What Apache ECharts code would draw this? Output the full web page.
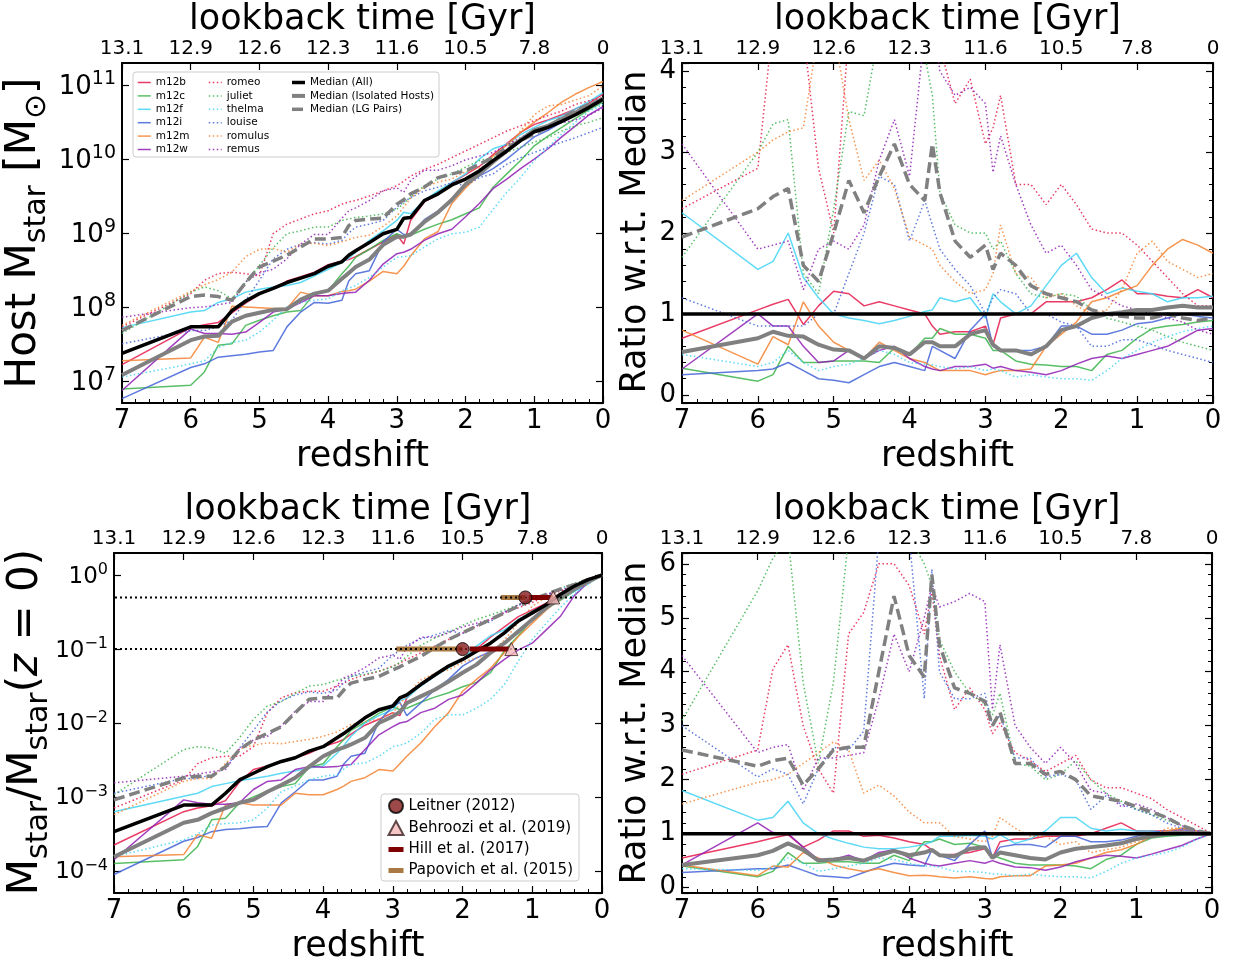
<!DOCTYPE html>
<html>
<head>
<meta charset="utf-8">
<title>Host stellar mass growth</title>
<script src="https://cdn.jsdelivr.net/npm/echarts@6/dist/echarts.min.js"></script>
<style>
  html, body { margin: 0; padding: 0; background: #fff; }
  #chart { width: 1234px; height: 968px; }
</style>
</head>
<body>
<div id="chart"></div>
<script>
// shared redshift grid
const redshift = [7, 6, 5.8, 5.6, 5.4, 5.2, 5, 4.8, 4.6, 4.4, 4.2, 4, 3.8, 3.7, 3.6, 3.4, 3.2, 3, 2.9, 2.8, 2.6, 2.4, 2.2, 2, 1.8, 1.6, 1.4, 1.2, 1, 0.8, 0.6, 0.4, 0.2, 0]

// top axis: lookback time at integer redshifts
const lookbackZ = [7, 6, 5, 4, 3, 2, 1, 0]
const lookbackGyr = ['13.1', '12.9', '12.6', '12.3', '11.6', '10.5', '7.8', '0']

// panel 1: log10 host stellar mass
const medAllMass = [7.37,7.73,7.73,7.73,7.95,8.08,8.18,8.25,8.33,8.39,8.45,8.55, 8.61,8.7,8.76,8.87,8.99,9.05,9.2,9.21, 9.44,9.53,9.65,9.73,9.84,9.98,10.11,10.25,10.37,10.43,10.51,10.6,10.7,10.81]
const medIsoMass = [7.08,7.55,7.6,7.61,7.8,7.88,7.92,7.96,7.97,8.1,8.18,8.22, 8.38,8.46,8.54,8.64,8.84,8.95,8.95,8.98, 9.15,9.28,9.45,9.66,9.8,9.96,10.11,10.26,10.39,10.45,10.54,10.63,10.72,10.82]
const medLGMass = [7.68,8.14,8.16,8.14,8.09,8.33,8.54,8.62,8.7,8.81,8.92,8.92, 8.94,9.1,9.17,9.19,9.2,9.39,9.45,9.53, 9.62,9.75,9.8,9.84,9.93,10.02,10.16,10.25,10.34,10.43,10.56,10.65,10.74,10.81]
const m12bMass = [7.22,7.72,7.76,7.79,7.92,8.05,8.17,8.25,8.35,8.41,8.47,8.57, 8.62,8.64,8.68,8.78,8.88,8.98,8.85,9.17, 9.42,9.52,9.68,9.79,9.9,10.06,10.21,10.36,10.47,10.53,10.6,10.68,10.76,10.88]
const m12cMass = [6.89,6.94,7.12,7.48,7.5,7.75,7.82,7.88,7.93,7.95,8.18,8.22, 8.45,8.55,8.67,8.78,8.9,8.99,8.95,8.97, 9.05,9.12,9.18,9.26,9.34,9.62,9.8,9.98,10.18,10.31,10.43,10.55,10.67,10.77]
const m12fMass = [7.72,7.93,7.95,8.06,8.11,8.2,8.24,8.27,8.29,8.33,8.42,8.51, 8.6,8.66,8.74,8.9,9.03,9.17,9.28,9.26, 9.44,9.57,9.68,9.8,10.0,10.14,10.2,10.33,10.43,10.52,10.58,10.68,10.78,10.9]
const m12iMass = [6.76,7.18,7.23,7.32,7.34,7.36,7.39,7.41,7.73,7.93,8.06,8.05, 8.09,8.35,8.45,8.49,8.88,9.05,8.98,8.98, 9.18,9.3,9.45,9.65,9.77,9.87,10.0,10.15,10.3,10.39,10.5,10.6,10.69,10.79]
const m12mMass = [7.27,7.31,7.59,7.52,8.01,8.0,7.99,7.98,7.98,8.2,8.15,8.15, 8.21,8.22,8.24,8.35,8.48,8.45,8.55,8.69, 8.92,9.02,9.4,9.61,9.79,10.04,10.19,10.36,10.5,10.63,10.77,10.88,10.97,11.05]
const m12wMass = [6.87,7.7,7.64,7.64,7.63,7.66,7.79,7.93,7.97,8.06,8.15,8.15, 8.18,8.19,8.2,8.36,8.58,8.72,8.74,8.78, 8.9,8.99,9.05,9.22,9.4,9.6,9.73,9.87,10.0,10.14,10.3,10.45,10.6,10.71]
const romeoMass = [7.73,8.18,8.36,8.45,8.47,8.45,8.42,8.99,9.12,9.19,9.26,9.3, 9.39,9.42,9.44,9.5,9.57,9.64,9.7,9.77, 9.86,9.93,10.02,10.11,10.2,10.29,10.38,10.45,10.52,10.59,10.65,10.74,10.79,10.83]
const julietMass = [7.64,8.2,8.27,8.22,8.11,8.33,8.56,8.8,8.99,9.03,9.08,9.08, 9.17,9.19,9.21,9.23,9.26,9.32,9.4,9.48, 9.64,9.73,9.8,9.89,9.98,10.02,10.09,10.16,10.23,10.29,10.38,10.45,10.5,10.56]
const thelmaMass = [7.05,7.23,7.27,7.45,7.52,7.55,7.66,7.82,8.0,8.06,8.09,8.11, 8.22,8.25,8.29,8.4,8.54,8.67,8.68,8.69, 8.81,8.92,8.99,9.01,9.08,9.32,9.55,9.75,9.98,10.16,10.34,10.5,10.65,10.74]
const louiseMass = [7.5,7.68,7.68,7.73,7.82,8.09,8.36,8.65,8.78,8.85,8.87,8.85, 8.9,9.0,9.08,9.12,9.17,9.35,9.42,9.48, 9.57,9.62,9.68,9.64,9.75,9.8,9.93,10.02,10.09,10.16,10.23,10.29,10.36,10.43]
const romulusMass = [7.75,8.21,8.3,8.37,8.47,8.68,8.78,8.79,8.74,8.85,8.86,8.83, 8.88,8.91,8.94,8.97,9.09,9.23,9.35,9.47, 9.62,9.69,9.73,9.83,9.88,9.96,10.13,10.38,10.6,10.72,10.74,10.8,10.86,10.99]
const remusMass = [7.86,7.99,8.0,8.03,8.06,8.34,8.46,8.51,8.65,8.85,8.98,8.98, 9.2,9.3,9.34,9.44,9.57,9.61,9.55,9.71, 9.85,9.85,9.91,9.99,10.04,10.09,10.19,10.29,10.39,10.43,10.49,10.53,10.6,10.69]

// panel 2: mass ratio w.r.t. median (all)
const medAllRatio = [1,1,1,1,1,1,1,1,1,1,1,1, 1,1,1,1,1,1,1,1, 1,1,1,1,1,1,1,1,1,1,1,1,1,1]
const medIsoRatio = [0.53,0.7,0.78,0.73,0.72,0.62,0.56,0.55,0.45,0.6,0.58,0.5, 0.65,0.65,0.6,0.6,0.75,0.8,0.62,0.55, 0.55,0.5,0.6,0.8,0.85,0.95,1.0,1.02,1.05,1.05,1.08,1.1,1.08,1.08]
const medLGRatio = [1.95,2.3,2.45,2.55,1.6,1.4,2.0,2.65,2.25,2.7,3.1,2.6, 2.4,3.1,2.5,1.9,1.7,1.85,1.55,1.75, 1.6,1.35,1.25,1.2,1.15,1.05,1.0,0.97,0.95,0.95,1.0,0.95,0.92,0.95]
const m12bRatio = [0.7,1.05,1.12,1.18,0.87,1.1,1.28,1.25,1.1,1.15,1.1,1.05, 1.0,0.85,0.75,0.78,0.78,0.85,0.62,0.95, 1.0,1.0,1.15,1.15,1.15,1.2,1.3,1.42,1.25,1.25,1.22,1.2,1.3,1.2]
const m12cRatio = [0.33,0.17,0.25,0.6,0.4,0.4,0.42,0.42,0.42,0.4,0.58,0.5, 0.7,0.7,0.82,0.75,0.75,0.7,0.55,0.55, 0.42,0.38,0.37,0.35,0.35,0.3,0.5,0.55,0.7,0.82,0.85,0.87,0.9,0.92]
const m12fRatio = [2.25,1.55,1.65,2.0,1.45,1.2,1.0,0.95,0.92,0.88,0.92,0.97, 1.03,1.05,1.2,1.15,1.2,0.95,1.25,1.15, 1.0,1.1,1.35,1.6,1.75,1.45,1.25,1.32,1.28,1.25,1.15,1.2,1.2,1.22]
const m12iRatio = [0.25,0.3,0.32,0.4,0.3,0.2,0.18,0.15,0.25,0.35,0.4,0.35, 0.3,0.6,0.55,0.45,0.8,1.0,0.6,0.55, 0.55,0.55,0.6,0.85,0.85,0.75,0.75,0.8,0.88,0.9,0.95,1.0,0.97,0.95]
const m12mRatio = [0.8,0.38,0.72,0.62,1.15,0.85,0.65,0.55,0.45,0.65,0.55,0.45, 0.4,0.35,0.3,0.3,0.3,0.25,0.28,0.3, 0.3,0.32,0.6,0.75,0.9,1.15,1.2,1.28,1.35,1.6,1.8,1.92,1.85,1.75]
const m12wRatio = [0.32,1.0,0.85,0.85,0.6,0.4,0.42,0.55,0.45,0.55,0.6,0.45, 0.35,0.32,0.3,0.35,0.35,0.38,0.33,0.35, 0.3,0.28,0.25,0.3,0.38,0.45,0.48,0.45,0.5,0.55,0.6,0.7,0.8,0.82]
const romeoRatio = [2.3,2.8,4.6,5.0,4.5,2.8,2.0,4.5,5.0,5.0,5.0,5.0, 4.6,4.5,4.3,3.6,3.9,3.1,3.3,3.7, 2.6,2.6,2.35,2.6,2.35,2.05,2.0,2.0,1.85,1.65,1.45,1.25,1.1,1.1]
const julietRatio = [1.7,3.0,3.35,3.4,1.5,1.25,2.3,3.5,3.45,4.5,5.0,4.5, 4.2,3.7,2.5,2.1,2.0,2.0,1.8,1.9, 1.5,1.25,1.2,1.25,1.22,1.05,0.95,0.9,0.85,0.8,0.72,0.65,0.6,0.55]
const thelmaRatio = [0.5,0.35,0.4,0.55,0.4,0.3,0.35,0.38,0.45,0.55,0.5,0.4, 0.38,0.37,0.35,0.32,0.35,0.3,0.32,0.3, 0.22,0.25,0.22,0.2,0.2,0.18,0.3,0.45,0.55,0.65,0.72,0.78,0.82,0.85]
const louiseRatio = [1.2,0.85,0.85,0.85,0.85,1.0,1.0,1.5,2.0,2.7,2.6,1.9, 2.4,2.1,1.8,1.55,1.35,1.0,1.2,1.3, 1.25,1.0,1.0,0.9,0.85,0.6,0.6,0.68,0.68,0.62,0.55,0.5,0.45,0.4]
const romulusRatio = [2.4,3.0,3.15,3.25,3.3,4.5,4.5,3.4,2.65,2.9,2.55,1.95, 1.85,1.8,1.6,1.4,1.25,1.3,1.5,2.1, 1.5,1.45,1.2,1.25,1.1,1.0,1.05,1.3,1.75,1.9,1.65,1.55,1.45,1.5]
const remusRatio = [3.1,1.8,1.85,1.9,1.3,1.8,1.9,1.8,2.1,2.9,3.4,2.7, 4.5,4.6,4.0,3.7,3.8,3.6,2.75,3.2, 2.6,2.1,1.75,1.85,1.6,1.3,1.2,1.1,1.05,1.0,0.95,0.9,0.8,0.75]

// panel 3: log10 of M(z)/M(z=0)
const medAllFrac = [-3.47,-3.11,-3.11,-3.11,-2.95,-2.77,-2.68,-2.59,-2.52,-2.47,-2.38,-2.32, -2.2,-2.14,-2.07,-1.93,-1.82,-1.77,-1.66,-1.62, -1.48,-1.35,-1.23,-1.14,-1.03,-0.92,-0.78,-0.62,-0.51,-0.4,-0.26,-0.15,-0.06,0]
const medIsoFrac = [-3.81,-3.35,-3.31,-3.22,-3.15,-3.08,-3.04,-2.93,-2.84,-2.74,-2.59,-2.45, -2.36,-2.33,-2.29,-2.2,-2.0,-1.91,-1.85,-1.73, -1.64,-1.55,-1.44,-1.32,-1.21,-1.05,-0.92,-0.76,-0.6,-0.44,-0.31,-0.19,-0.08,0]
const medLGFrac = [-3.04,-2.74,-2.72,-2.72,-2.59,-2.36,-2.23,-2.14,-2.05,-1.86,-1.68,-1.66, -1.66,-1.55,-1.46,-1.41,-1.37,-1.28,-1.24,-1.19, -1.1,-0.98,-0.87,-0.78,-0.69,-0.6,-0.51,-0.42,-0.33,-0.26,-0.19,-0.13,-0.06,0]
const m12bFrac = [-3.65,-3.2,-3.15,-3.12,-3.05,-2.8,-2.63,-2.58,-2.53,-2.47,-2.41,-2.32, -2.26,-2.22,-2.15,-2.03,-1.95,-1.86,-1.9,-1.66, -1.48,-1.37,-1.23,-1.14,-1.0,-0.84,-0.7,-0.56,-0.47,-0.38,-0.29,-0.2,-0.1,0]
const m12cFrac = [-3.9,-3.85,-3.67,-3.31,-3.29,-3.08,-3.0,-2.92,-2.86,-2.82,-2.6,-2.55, -2.32,-2.22,-2.1,-1.99,-1.87,-1.78,-1.82,-1.8, -1.72,-1.65,-1.59,-1.51,-1.45,-1.32,-1.02,-0.82,-0.6,-0.46,-0.34,-0.22,-0.1,0]
const m12fFrac = [-3.2,-2.99,-2.95,-2.86,-2.82,-2.78,-2.75,-2.72,-2.68,-2.65,-2.61,-2.58, -2.41,-2.3,-2.18,-2.0,-1.9,-1.82,-1.7,-1.66, -1.5,-1.37,-1.25,-1.14,-0.96,-0.82,-0.74,-0.6,-0.49,-0.4,-0.31,-0.22,-0.12,0]
const m12iFrac = [-4.05,-3.6,-3.55,-3.47,-3.44,-3.43,-3.41,-3.4,-3.08,-2.93,-2.77,-2.77, -2.72,-2.55,-2.45,-2.41,-1.98,-1.77,-1.72,-1.9, -1.73,-1.55,-1.41,-1.23,-1.12,-1.03,-0.92,-0.78,-0.6,-0.45,-0.32,-0.2,-0.1,0]
const m12mFrac = [-3.81,-3.78,-3.51,-3.56,-3.11,-3.08,-3.11,-3.11,-3.11,-2.95,-2.97,-2.97, -2.9,-2.85,-2.79,-2.74,-2.63,-2.65,-2.55,-2.45, -2.27,-2.05,-1.86,-1.57,-1.41,-1.26,-1.05,-0.83,-0.65,-0.47,-0.31,-0.19,-0.08,0]
const m12wFrac = [-3.85,-3.04,-3.08,-3.1,-3.1,-3.08,-2.9,-2.79,-2.77,-2.63,-2.59,-2.6, -2.59,-2.57,-2.56,-2.36,-2.16,-2.05,-2.0,-1.98, -1.86,-1.8,-1.68,-1.62,-1.46,-1.28,-1.14,-1.01,-0.92,-0.74,-0.56,-0.28,-0.1,0]
const romeoFrac = [-3.15,-2.77,-2.55,-2.47,-2.45,-2.45,-2.32,-1.86,-1.66,-1.59,-1.57,-1.57, -1.5,-1.46,-1.41,-1.35,-1.3,-1.23,-1.19,-1.14, -1.05,-0.96,-0.87,-0.78,-0.69,-0.6,-0.51,-0.44,-0.37,-0.28,-0.22,-0.15,-0.06,0]
const julietFrac = [-2.97,-2.36,-2.32,-2.34,-2.41,-2.2,-1.95,-1.77,-1.71,-1.6,-1.5,-1.48, -1.42,-1.4,-1.37,-1.34,-1.3,-1.24,-1.18,-1.1, -0.95,-0.85,-0.77,-0.68,-0.6,-0.54,-0.47,-0.4,-0.33,-0.27,-0.18,-0.11,-0.06,0]
const thelmaFrac = [-3.81,-3.58,-3.5,-3.38,-3.36,-3.35,-3.31,-3.15,-2.93,-2.85,-2.77,-2.72, -2.7,-2.62,-2.56,-2.54,-2.45,-2.32,-2.3,-2.27, -2.14,-1.95,-1.89,-1.89,-1.8,-1.68,-1.48,-1.16,-0.87,-0.65,-0.44,-0.26,-0.1,0]
const louiseFrac = [-2.95,-2.75,-2.75,-2.7,-2.61,-2.34,-2.1,-1.85,-1.7,-1.62,-1.58,-1.6, -1.55,-1.45,-1.37,-1.31,-1.26,-1.08,-1.02,-0.95, -0.86,-0.81,-0.75,-0.79,-0.68,-0.63,-0.5,-0.41,-0.34,-0.27,-0.2,-0.14,-0.07,0]
const romulusFrac = [-3.24,-2.79,-2.75,-2.75,-2.55,-2.35,-2.3,-2.27,-2.28,-2.25,-2.22,-2.18, -2.12,-2.07,-2.02,-1.98,-1.95,-1.86,-1.75,-1.62, -1.42,-1.33,-1.28,-1.18,-1.12,-1.05,-0.88,-0.64,-0.42,-0.3,-0.26,-0.2,-0.12,0]
const remusFrac = [-2.81,-2.72,-2.69,-2.66,-2.63,-2.35,-2.23,-2.18,-2.04,-1.84,-1.71,-1.71, -1.49,-1.39,-1.35,-1.25,-1.12,-1.08,-1.14,-0.98, -0.84,-0.84,-0.78,-0.7,-0.65,-0.6,-0.5,-0.4,-0.3,-0.26,-0.2,-0.16,-0.09,0]

// panel 4: normalized-mass ratio w.r.t. median (all)
const medAllFracRatio = [1,1,1,1,1,1,1,1,1,1,1,1, 1,1,1,1,1,1,1,1, 1,1,1,1,1,1,1,1,1,1,1,1,1,1]
const medIsoFracRatio = [0.42,0.6,0.68,0.82,0.7,0.5,0.52,0.55,0.5,0.6,0.68,0.6, 0.65,0.7,0.6,0.58,0.72,0.75,0.55,0.65, 0.6,0.55,0.52,0.65,0.72,0.75,0.78,0.82,0.9,0.95,1.0,1.02,1.0,1.0]
const medLGFracRatio = [2.55,2.25,2.35,2.4,1.9,2.2,2.55,2.6,2.6,4.0,5.4,4.3, 3.9,5.8,4.5,3.7,3.6,3.45,3.0,3.25, 2.3,2.3,2.1,2.15,2.0,1.7,1.65,1.6,1.5,1.4,1.3,1.15,1.05,1.0]
const m12bFracRatio = [0.55,0.85,0.92,0.98,0.75,0.88,1.05,1.05,0.95,0.97,0.92,0.85, 0.8,0.7,0.6,0.62,0.65,0.72,0.55,0.85, 0.9,0.9,0.95,0.95,0.95,1.0,1.1,1.2,1.05,1.05,1.05,1.05,1.02,1.0]
const m12cFracRatio = [0.4,0.2,0.3,0.65,0.45,0.45,0.48,0.48,0.45,0.45,0.6,0.5, 0.85,0.85,0.9,0.8,0.82,0.75,0.6,0.55, 0.45,0.42,0.42,0.42,0.4,0.35,0.52,0.6,0.8,0.92,0.95,0.97,0.99,1.0]
const m12fFracRatio = [1.8,1.25,1.3,1.6,1.2,1.0,0.9,0.82,0.75,0.72,0.72,0.75, 0.8,0.85,0.95,0.95,0.97,0.95,0.9,0.98, 0.82,0.9,1.05,1.3,1.3,1.1,1.05,1.08,1.05,1.05,1.02,1.02,1.0,1.0]
const m12iFracRatio = [0.28,0.35,0.35,0.42,0.32,0.22,0.2,0.18,0.28,0.38,0.45,0.42, 0.4,0.7,0.6,0.5,0.8,1.05,0.55,0.75, 0.8,0.8,0.75,0.95,0.95,0.85,0.85,0.88,0.95,1.02,1.05,1.08,1.03,1.0]
const m12mFracRatio = [0.42,0.22,0.4,0.38,0.65,0.55,0.42,0.35,0.3,0.35,0.28,0.22, 0.23,0.22,0.2,0.18,0.2,0.17,0.16,0.2, 0.22,0.22,0.4,0.42,0.45,0.55,0.65,0.7,0.8,0.95,1.05,1.1,1.05,1.0]
const m12wFracRatio = [0.42,1.2,1.02,1.0,0.75,0.52,0.52,0.6,0.5,0.65,0.7,0.55, 0.45,0.42,0.4,0.45,0.5,0.45,0.5,0.45, 0.38,0.37,0.32,0.38,0.48,0.55,0.6,0.58,0.55,0.62,0.7,0.78,0.9,1.0]
const romeoFracRatio = [2.1,2.55,4.05,4.5,3.0,2.2,1.75,4.7,5.1,6.0,6.0,5.6, 4.7,5.5,4.3,3.3,3.7,3.3,2.85,3.05, 2.5,2.35,2.15,2.3,2.45,2.0,1.85,1.85,1.75,1.65,1.45,1.3,1.15,1.0]
const julietFracRatio = [3.1,5.5,6.1,6.5,3.8,2.3,3.8,6.5,7,7,7,6.5, 6.0,5.6,4.6,4.0,3.6,3.4,3.2,3.6, 2.3,2.25,2.0,2.1,2.35,2.0,1.75,1.6,1.45,1.35,1.25,1.15,1.05,1.0]
const thelmaFracRatio = [0.35,0.32,0.38,0.55,0.45,0.3,0.35,0.4,0.45,0.55,0.52,0.45, 0.4,0.4,0.38,0.3,0.3,0.28,0.25,0.25, 0.22,0.25,0.22,0.2,0.2,0.18,0.3,0.45,0.55,0.6,0.65,0.75,0.9,1.0]
const louiseFracRatio = [3.0,2.05,2.2,2.1,1.55,2.2,2.6,2.55,2.9,6.5,6.5,6.5, 3.5,5.9,4.0,3.5,3.5,3.6,3.0,3.2, 2.4,2.4,2.05,2.1,2.0,1.45,1.7,1.55,1.45,1.35,1.2,1.1,1.05,1.0]
const romulusFracRatio = [1.55,1.95,2.0,2.1,2.3,2.5,2.7,2.55,1.75,1.9,1.7,1.4, 1.2,1.2,1.2,0.95,0.9,0.85,0.95,1.3, 1.1,0.95,0.95,0.8,0.85,0.65,0.7,0.75,0.85,0.95,1.1,1.1,1.05,1.0]
const remusFracRatio = [4.3,2.5,2.6,2.65,1.8,2.4,2.4,2.45,2.5,3.5,4.7,4.0, 5.0,5.6,5.2,5.3,5.45,5.3,3.3,4.5, 3.0,2.6,2.3,2.6,2.3,1.8,1.75,1.5,1.55,1.45,1.3,1.15,1.05,1.0]

// observational constraints (panel 3): redshift at which M/M(z=0) reaches a fraction
const obsFractions = [0.5, 0.1]
const leitnerZ = [1.1, 2.0]
const behrooziZ = [0.7, 1.3]
const hillZRange = [[0.7, 1.05], [1.33, 1.9]]
const papovichZRange = [[1.1, 1.45], [2.0, 2.95]]

const FONT = 'DejaVu Sans'
const isolatedHosts = ['m12b', 'm12c', 'm12f', 'm12i', 'm12m', 'm12w']
const pairHosts = ['romeo', 'juliet', 'thelma', 'louise', 'romulus', 'remus']
const hostColors = ['#e6194b', '#3cb44b', '#42d4f4', '#4363d8', '#f58231', '#911eb4']
const medianNames = ['Median (All)', 'Median (Isolated Hosts)', 'Median (LG Pairs)']

const panelData = [
    {
        m12b: m12bMass, m12c: m12cMass, m12f: m12fMass, m12i: m12iMass, m12m: m12mMass, m12w: m12wMass,
        romeo: romeoMass, juliet: julietMass, thelma: thelmaMass, louise: louiseMass, romulus: romulusMass, remus: remusMass,
        medians: [medAllMass, medIsoMass, medLGMass]
    },
    {
        m12b: m12bRatio, m12c: m12cRatio, m12f: m12fRatio, m12i: m12iRatio, m12m: m12mRatio, m12w: m12wRatio,
        romeo: romeoRatio, juliet: julietRatio, thelma: thelmaRatio, louise: louiseRatio, romulus: romulusRatio, remus: remusRatio,
        medians: [medAllRatio, medIsoRatio, medLGRatio]
    },
    {
        m12b: m12bFrac, m12c: m12cFrac, m12f: m12fFrac, m12i: m12iFrac, m12m: m12mFrac, m12w: m12wFrac,
        romeo: romeoFrac, juliet: julietFrac, thelma: thelmaFrac, louise: louiseFrac, romulus: romulusFrac, remus: remusFrac,
        medians: [medAllFrac, medIsoFrac, medLGFrac]
    },
    {
        m12b: m12bFracRatio, m12c: m12cFracRatio, m12f: m12fFracRatio, m12i: m12iFracRatio, m12m: m12mFracRatio, m12w: m12wFracRatio,
        romeo: romeoFracRatio, juliet: julietFracRatio, thelma: thelmaFracRatio, louise: louiseFracRatio, romulus: romulusFracRatio, remus: remusFracRatio,
        medians: [medAllFracRatio, medIsoFracRatio, medLGFracRatio]
    }
]

// layout of the four panels
const panels = [
    { grid: { left: 122, top: 63, width: 481, height: 340 }, min: 6.7, max: 11.3, log: true, base: 26, sup: 19 },
    { grid: { left: 682, top: 63, width: 531, height: 340 }, min: -0.1, max: 4.1, log: false },
    { grid: { left: 114, top: 553, width: 488, height: 340 }, min: -4.3, max: 0.3, log: true, base: 23, sup: 16 },
    { grid: { left: 682, top: 553, width: 530, height: 340 }, min: -0.1, max: 6.2, log: false }
]

const black = '#000'
const frameLine = { show: true, onZero: false, lineStyle: { color: black, width: 2 } }
const majorTick = { show: true, inside: true, length: 7, lineStyle: { color: black, width: 1.2 } }
const minorTick = { show: true, splitNumber: 5, length: 4, lineStyle: { color: black, width: 1 } }

const xAxes = []
const yAxes = []
panels.forEach((p, i) => {
    xAxes.push({
        type: 'value', gridIndex: i, position: 'bottom', min: 0, max: 7, interval: 1, inverse: true,
        axisLine: frameLine, axisTick: majorTick, minorTick: minorTick, splitLine: { show: false },
        axisLabel: { fontSize: 26, fontFamily: FONT, color: black, margin: 5 },
        name: 'redshift', nameLocation: 'middle', nameGap: 36,
        nameTextStyle: { fontSize: 35, fontFamily: FONT, color: black }
    })
    xAxes.push({
        type: 'value', gridIndex: i, position: 'top', min: 0, max: 7, interval: 1, inverse: true,
        axisLine: frameLine, axisTick: majorTick, splitLine: { show: false },
        axisLabel: {
            fontSize: 20, fontFamily: FONT, color: black, margin: 4,
            formatter: v => {
                const k = lookbackZ.indexOf(Math.round(v))
                return k >= 0 ? lookbackGyr[k] : ''
            }
        },
        name: 'lookback time [Gyr]', nameLocation: 'middle', nameGap: 26,
        nameTextStyle: { fontSize: 35, fontFamily: FONT, color: black }
    })
    const label = p.log ? {
        fontFamily: FONT, color: black, margin: 6, showMinLabel: false, showMaxLabel: false,
        formatter: v => {
            const r = Math.round(v)
            if (Math.abs(v - r) > 1e-6) return ''
            return '{b|10}{s|' + (r < 0 ? '\u2212' + (-r) : r) + '}'
        },
        rich: {
            b: { fontSize: p.base, fontFamily: FONT, color: black, verticalAlign: 'bottom' },
            s: { fontSize: p.sup, fontFamily: FONT, color: black, verticalAlign: 'bottom', padding: [0, 0, Math.round(p.base * 0.45), 0] }
        }
    } : {
        fontSize: 26, fontFamily: FONT, color: black, margin: 6, showMinLabel: false, showMaxLabel: false
    }
    yAxes.push({
        type: 'value', gridIndex: i, position: 'left', min: p.min, max: p.max,
        axisLine: frameLine, axisTick: majorTick, minorTick: p.log ? { show: false } : minorTick,
        splitLine: { show: false }, axisLabel: label
    })
    yAxes.push({
        type: 'value', gridIndex: i, position: 'right', min: p.min, max: p.max,
        axisLine: frameLine, axisTick: majorTick, minorTick: p.log ? { show: false } : minorTick,
        splitLine: { show: false }, axisLabel: { show: false }
    })
})

function lineSeries(name, panel, values, lineStyle, z) {
    return {
        type: 'line', name: name, xAxisIndex: panel * 2, yAxisIndex: panel * 2,
        data: redshift.map((zz, k) => [zz, values[k]]),
        symbol: 'none', silent: true, clip: true, z: z,
        color: lineStyle.color,
        itemStyle: { color: lineStyle.color },
        emphasis: { disabled: true },
        lineStyle: lineStyle
    }
}

const medianStyles = [
    { color: black, width: 3.5 },
    { color: '#808080', width: 4 },
    { color: '#808080', width: 3.5, type: [11, 5] }
]

const series = []
panelData.forEach((d, pi) => {
    isolatedHosts.forEach((h, k) => {
        series.push(lineSeries(h, pi, d[h], { color: hostColors[k], width: 1.5, opacity: 0.85 }, 2))
    })
    pairHosts.forEach((h, k) => {
        series.push(lineSeries(h, pi, d[h], { color: hostColors[k], width: 1.5, opacity: 0.85, type: [1.5, 2.5] }, 2))
    })
    series.push(lineSeries(medianNames[2], pi, d.medians[2], medianStyles[2], 3))
    series.push(lineSeries(medianNames[1], pi, d.medians[1], medianStyles[1], 3))
    series.push(lineSeries(medianNames[0], pi, d.medians[0], medianStyles[0], 4))
})

// observations on panel 3 (grid 2)
const papovichColor = '#a87942'
const hillColor = '#7f0000'
papovichZRange.forEach((r, k) => {
    series.push({
        type: 'line', name: 'Papovich et al. (2015)', xAxisIndex: 4, yAxisIndex: 4, symbol: 'none', silent: true, z: 5,
        color: papovichColor, itemStyle: { color: papovichColor },
        data: r.map(zz => [zz, Math.log10(obsFractions[k])]),
        lineStyle: { color: papovichColor, width: 5 }
    })
})
obsFractions.forEach(f => {
    series.push({
        type: 'line', name: 'ref ' + f, xAxisIndex: 4, yAxisIndex: 4, symbol: 'none', silent: true, z: 6,
        color: black,
        data: [[0, Math.log10(f)], [7, Math.log10(f)]],
        lineStyle: { color: black, width: 2, type: [2, 3] }
    })
})
hillZRange.forEach((r, k) => {
    series.push({
        type: 'line', name: 'Hill et al. (2017)', xAxisIndex: 4, yAxisIndex: 4, symbol: 'none', silent: true, z: 6,
        color: hillColor, itemStyle: { color: hillColor },
        data: r.map(zz => [zz, Math.log10(obsFractions[k])]),
        lineStyle: { color: hillColor, width: 5 }
    })
})
series.push({
    type: 'scatter', name: 'Leitner (2012)', xAxisIndex: 4, yAxisIndex: 4, symbol: 'circle', symbolSize: 13, z: 7, silent: true,
    data: leitnerZ.map((zz, k) => [zz, Math.log10(obsFractions[k])]),
    itemStyle: { color: '#861c1c', borderColor: black, borderWidth: 1 }
})
series.push({
    type: 'scatter', name: 'Behroozi et al. (2019)', xAxisIndex: 4, yAxisIndex: 4, symbol: 'triangle', symbolSize: 13, z: 7, silent: true,
    data: behrooziZ.map((zz, k) => [zz, Math.log10(obsFractions[k])]),
    itemStyle: { color: '#f4b6b6', borderColor: '#3a2020', borderWidth: 1 }
})

// line-only legend entries (no marker)
const lineOnly = (name, width) => ({ name: name, itemStyle: { opacity: 0 }, lineStyle: { width: width } })

const smallLegend = (left, names, widths) => ({
    orient: 'vertical', left: left, top: 77, padding: 0, itemWidth: 13, itemHeight: 10, itemGap: 2.4,
    selectedMode: false, z: 6,
    itemStyle: { opacity: 0 },
    textStyle: { fontSize: 10.5, fontFamily: FONT, color: black, lineHeight: 10 },
    data: names.map((n, k) => lineOnly(n, widths[k]))
})

const option = {
    animation: false,
    textStyle: { fontFamily: FONT },
    grid: panels.map(p => Object.assign({ containLabel: false }, p.grid)),
    xAxis: xAxes,
    yAxis: yAxes,
    legend: [
        smallLegend(137, isolatedHosts, isolatedHosts.map(() => 1.5)),
        smallLegend(208, pairHosts, pairHosts.map(() => 1.5)),
        smallLegend(290, medianNames, medianStyles.map(s => s.width)),
        {
            orient: 'vertical', left: 381, top: 794, padding: [4, 6, 3, 5], itemWidth: 15, itemHeight: 14, itemGap: 6,
            selectedMode: false, borderColor: '#cccccc', borderWidth: 1, borderRadius: 3,
            backgroundColor: 'rgba(255,255,255,0.85)', z: 6,
            textStyle: { fontSize: 15, fontFamily: FONT, color: black, lineHeight: 15 },
            data: ['Leitner (2012)', 'Behroozi et al. (2019)', lineOnly('Hill et al. (2017)', 5), lineOnly('Papovich et al. (2015)', 5)]
        }
    ],
    graphic: [
        {
            type: 'rect', z: 5, silent: true,
            shape: { x: 133, y: 72, width: 306, height: 85, r: 3 },
            style: { fill: 'rgba(255,255,255,0.85)', stroke: '#cccccc', lineWidth: 1 }
        },
        {
            type: 'text', x: 28, y: 233, rotation: Math.PI / 2, z: 10, silent: true,
            style: {
                text: '{a|Host M}{s|star}{a| [M}{s|\u2299}{a|]}', align: 'center', verticalAlign: 'middle', fill: black,
                rich: {
                    a: { fontSize: 42, fontFamily: FONT, fill: black, verticalAlign: 'bottom', padding: [0, 0, 7, 0] },
                    s: { fontSize: 30, fontFamily: FONT, fill: black, verticalAlign: 'bottom' }
                }
            }
        },
        {
            type: 'text', x: 636, y: 232, rotation: Math.PI / 2, z: 10, silent: true,
            style: { text: 'Ratio w.r.t. Median', align: 'center', verticalAlign: 'middle', fill: black, fontSize: 35, fontFamily: FONT }
        },
        {
            type: 'text', x: 30, y: 722, rotation: Math.PI / 2, z: 10, silent: true,
            style: {
                text: '{a|M}{s|star}{a|/M}{s|star}{a|(}{i|z}{a| = 0)}', align: 'center', verticalAlign: 'middle', fill: black,
                rich: {
                    a: { fontSize: 42, fontFamily: FONT, fill: black, verticalAlign: 'bottom', padding: [0, 0, 7, 0] },
                    i: { fontSize: 42, fontFamily: FONT, fontStyle: 'italic', fill: black, verticalAlign: 'bottom', padding: [0, 0, 7, 0] },
                    s: { fontSize: 30, fontFamily: FONT, fill: black, verticalAlign: 'bottom' }
                }
            }
        },
        {
            type: 'text', x: 636, y: 723, rotation: Math.PI / 2, z: 10, silent: true,
            style: { text: 'Ratio w.r.t. Median', align: 'center', verticalAlign: 'middle', fill: black, fontSize: 35, fontFamily: FONT }
        }
    ],
    series: series
}

const chart = echarts.init(document.getElementById('chart'))
chart.setOption(option)
</script>
</body>
</html>
